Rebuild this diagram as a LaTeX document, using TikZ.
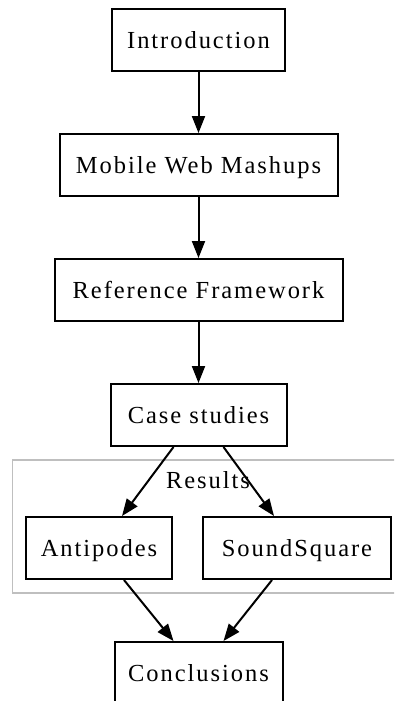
\documentclass[tikz,border=0pt]{standalone}
\usepackage{fontspec}
\setmainfont{Liberation Serif}[LetterSpace=8]
\usetikzlibrary{arrows.meta}

\tikzset{
  box/.style={draw=black, line width=2pt, rectangle, inner sep=0pt,
    minimum height=62pt, text height=17pt, text depth=0pt,
    font=\fontsize{24.5pt}{28pt}\selectfont},
  edge/.style={draw=black, line width=2pt,
    -{Triangle[length=17pt,width=13pt]}},
  cluster/.style={draw=black!25, line width=1.3pt},
  clusterlabel/.style={anchor=base, inner sep=0pt,
    font=\fontsize{24.5pt}{28pt}\selectfont}
}

\begin{document}
\begin{tikzpicture}[x=1pt, y=-1pt]
  \useasboundingbox (0,0) rectangle (394,701);
  \clip (0,0) rectangle (394,701);

  % cluster "Results"
  \draw[cluster] (12.5,460) rectangle (404,593);
  \node[clusterlabel] (reslabel) at (208,488) {Results};

  % nodes
  \node[box, minimum width=173pt] (intro) at (198.5,40) {Introduction};
  \node[box, minimum width=278pt] (mwm)   at (198.5,165) {Mobile Web Mashups};
  \node[box, minimum width=288pt] (rf)    at (198.5,290) {Reference Framework};
  \node[box, minimum width=176pt] (cs)    at (198.5,415) {Case studies};
  \node[box, minimum width=146pt] (ant)   at (99,548) {Antipodes};
  \node[box, minimum width=188pt] (ss)    at (297,548) {SoundSquare};
  \node[box, minimum width=168pt] (concl) at (198.5,673) {Conclusions};

  % connectors
  \draw[edge] (intro) -- (mwm);
  \draw[edge] (mwm) -- (rf);
  \draw[edge] (rf) -- (cs);
  \draw[edge] ([xshift=-25pt]cs.south) -- ([xshift=23pt]ant.north);
  \draw[edge] ([xshift=25pt]cs.south) -- ([xshift=-23pt]ss.north);
  \draw[edge] ([xshift=25pt]ant.south) -- ([xshift=-25pt]concl.north);
  \draw[edge] ([xshift=-25pt]ss.south) -- ([xshift=25pt]concl.north);
\end{tikzpicture}
\end{document}
